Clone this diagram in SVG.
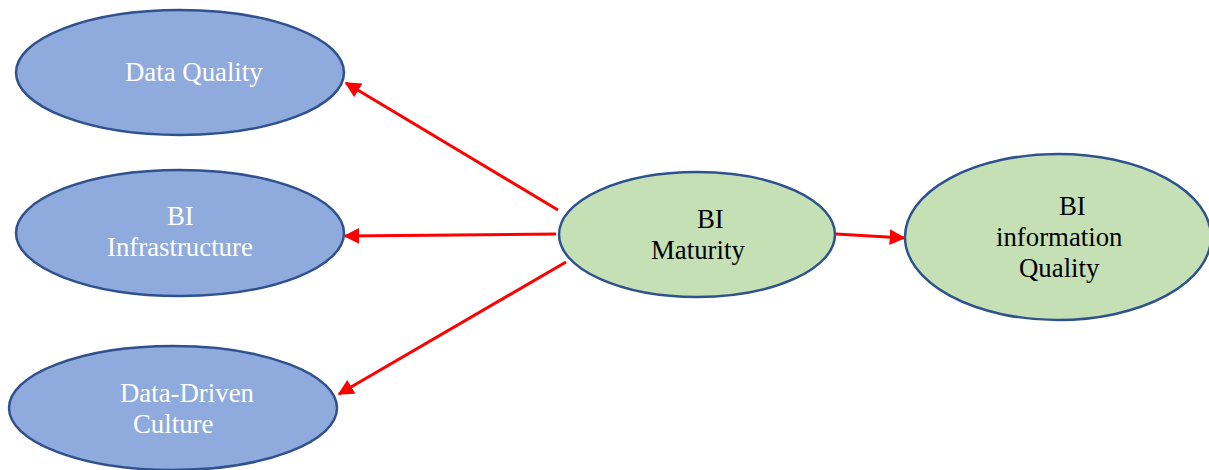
<svg xmlns="http://www.w3.org/2000/svg" width="1209" height="470" viewBox="0 0 1209 470">
<style>
.b{fill:#8FAADC;stroke:#2F528F;stroke-width:2.5}
.g{fill:#C5E0B4;stroke:#2F528F;stroke-width:2.5}
.tw{font-family:"Liberation Serif","Times New Roman",serif;font-size:26.8px;fill:#FFFFFF}
.tk{font-family:"Liberation Serif","Times New Roman",serif;font-size:26.8px;fill:#000000}
.c{stroke:#FF0000;stroke-width:3;fill:none;marker-end:url(#ah)}
</style>
<defs>
<marker id="ah" viewBox="0 0 10 10" refX="9" refY="5" markerWidth="5.3" markerHeight="5.3" orient="auto" markerUnits="strokeWidth">
<path d="M0,0 L10,5 L0,10 Z" fill="#FF0000"/>
</marker>
</defs>
<rect width="1209" height="470" fill="#FFFFFF"/>
<g id="connectors">
<line class="c" x1="558" y1="210" x2="346" y2="83"/>
<line class="c" x1="556" y1="234" x2="345" y2="236"/>
<line class="c" x1="566" y1="262" x2="339" y2="394"/>
<line class="c" x1="836" y1="234" x2="904" y2="238"/>
</g>
<g id="data-quality">
<ellipse class="b" cx="180" cy="72.5" rx="164" ry="62.5"/>
<text class="tw" x="125" y="81">Data Quality</text>
</g>
<g id="bi-infrastructure">
<ellipse class="b" cx="180" cy="233" rx="164" ry="63"/>
<text class="tw" x="167" y="225">BI</text>
<text class="tw" x="107" y="256">Infrastructure</text>
</g>
<g id="data-driven-culture">
<ellipse class="b" cx="173" cy="408" rx="164" ry="62"/>
<text class="tw" x="120" y="402">Data-Driven</text>
<text class="tw" x="133" y="433">Culture</text>
</g>
<g id="bi-maturity">
<ellipse class="g" cx="697" cy="234.5" rx="138" ry="62.5"/>
<text class="tk" x="697" y="228">BI</text>
<text class="tk" x="651" y="259">Maturity</text>
</g>
<g id="bi-information-quality">
<ellipse class="g" cx="1058" cy="237" rx="153" ry="83"/>
<text class="tk" x="1059" y="215">BI</text>
<text class="tk" x="996" y="246">information</text>
<text class="tk" x="1019" y="277">Quality</text>
</g>
</svg>
